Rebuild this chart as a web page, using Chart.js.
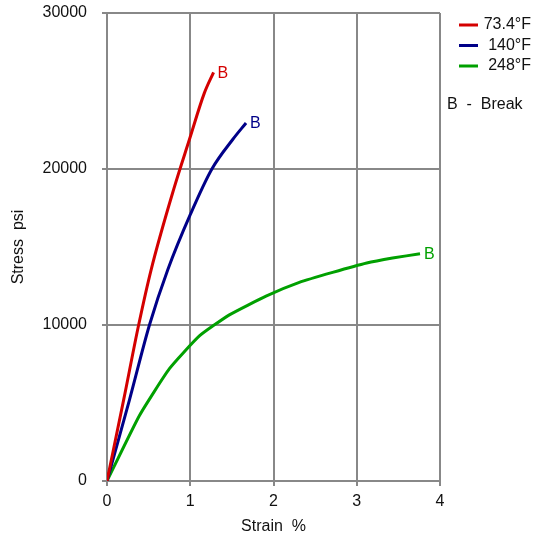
<!DOCTYPE html>
<html>
<head>
<meta charset="utf-8">
<script src="https://cdn.jsdelivr.net/npm/chart.js@4"></script>
<style>
  body { margin: 0; background: #fff; }
  #wrap { width: 544px; height: 536px; }
</style>
</head>
<body>
<div id="wrap"><canvas id="stressChart"></canvas></div>
<script>
const seriesNames = ["73.4\u00b0F", "140\u00b0F", "248\u00b0F"];
const seriesColors = ["#d40000", "#000088", "#00a000"];

const strain73 = [0, 0.2, 0.38, 0.53, 0.8, 0.99, 1.17, 1.28];
const stress73 = [0, 5200, 10000, 13540, 18680, 21890, 24880, 26200];

const strain140 = [0, 0.27, 0.51, 0.73, 1.0, 1.26, 1.51, 1.67];
const stress140 = [0, 5200, 10000, 13540, 17070, 20000, 21890, 22950];

const strain248 = [0, 0.39, 0.75, 1.11, 1.47, 1.91, 2.31, 2.71, 3.12, 3.43, 3.76];
const stress248 = [0, 4200, 7200, 9300, 10650, 11850, 12730, 13370, 13970, 14290, 14570];

const xTicks = [0, 1, 2, 3, 4];
const yTicks = [0, 10000, 20000, 30000];

const FONT = "Liberation Sans, Arial, sans-serif";

function points(xs, ys) {
    return xs.map(function (x, i) { return { x: x, y: ys[i] }; });
}

// legend + "B" break marks
const notes = {
    id: "notes",
    afterDatasetsDraw: function (chart) {
        const ctx = chart.ctx;
        ctx.save();
        ctx.font = "16px " + FONT;
        ctx.textBaseline = "middle";
        chart.data.datasets.forEach(function (ds, i) {
            const last = ds.data[ds.data.length - 1];
            const px = chart.scales.x.getPixelForValue(last.x);
            const py = chart.scales.y.getPixelForValue(last.y);
            ctx.fillStyle = seriesColors[i];
            ctx.textAlign = "left";
            ctx.fillText("B", px + 4, py + 1);

            const ly = 25 + i * 20.5;
            ctx.strokeStyle = seriesColors[i];
            ctx.lineWidth = 3;
            ctx.beginPath();
            ctx.moveTo(459, ly);
            ctx.lineTo(478, ly);
            ctx.stroke();
            ctx.fillStyle = "#111";
            ctx.textAlign = "right";
            ctx.fillText(seriesNames[i], 531, ly);
        });
        ctx.fillStyle = "#111";
        ctx.textAlign = "left";
        ctx.fillText("B  -  Break", 447, 105);
        ctx.restore();
    }
};

document.addEventListener("DOMContentLoaded", function () {
    const c = document.getElementById("stressChart").getContext("2d");

    new Chart(c, {
        type: "line",
        data: {
            datasets: [
                { label: seriesNames[0], data: points(strain73, stress73), borderColor: seriesColors[0], cubicInterpolationMode: "monotone" },
                { label: seriesNames[1], data: points(strain140, stress140), borderColor: seriesColors[1], cubicInterpolationMode: "monotone" },
                { label: seriesNames[2], data: points(strain248, stress248), borderColor: seriesColors[2], tension: 0.15 }
            ]
        },
        options: {
            responsive: true,
            maintainAspectRatio: false,
            animation: false,
            layout: { padding: { top: 13, right: 104, left: 0, bottom: 0 } },
            elements: {
                point: { radius: 0 },
                line: { borderWidth: 3, fill: false }
            },
            plugins: {
                legend: { display: false },
                tooltip: { enabled: false }
            },
            scales: {
                x: {
                    type: "linear",
                    min: 0,
                    max: 4,
                    afterFit: function (s) { s.height = 55; s.paddingLeft = 0; s.paddingRight = 0; },
                    afterBuildTicks: function (s) { s.ticks = xTicks.map(function (v) { return { value: v }; }); },
                    grid: { color: "#888", lineWidth: 2, tickLength: 5 },
                    border: { color: "#888", width: 2 },
                    ticks: { color: "#111", font: { family: FONT, size: 16 }, padding: 6, callback: function (v) { return String(v); } },
                    title: { display: true, text: "Strain  %", color: "#111", font: { family: FONT, size: 16 }, padding: { top: 7, bottom: 0 } }
                },
                y: {
                    min: 0,
                    max: 30000,
                    afterFit: function (s) { s.width = 107; s.paddingTop = 0; s.paddingBottom = 0; },
                    afterBuildTicks: function (s) { s.ticks = yTicks.map(function (v) { return { value: v }; }); },
                    grid: { color: "#888", lineWidth: 2, tickLength: 5 },
                    border: { color: "#888", width: 2 },
                    ticks: { color: "#111", font: { family: FONT, size: 16 }, padding: 15, callback: function (v) { return String(v); } },
                    title: { display: true, text: "Stress  psi", color: "#111", font: { family: FONT, size: 16 }, padding: { top: 9, bottom: 0 } }
                }
            }
        },
        plugins: [notes]
    });
});
</script>
</body>
</html>
